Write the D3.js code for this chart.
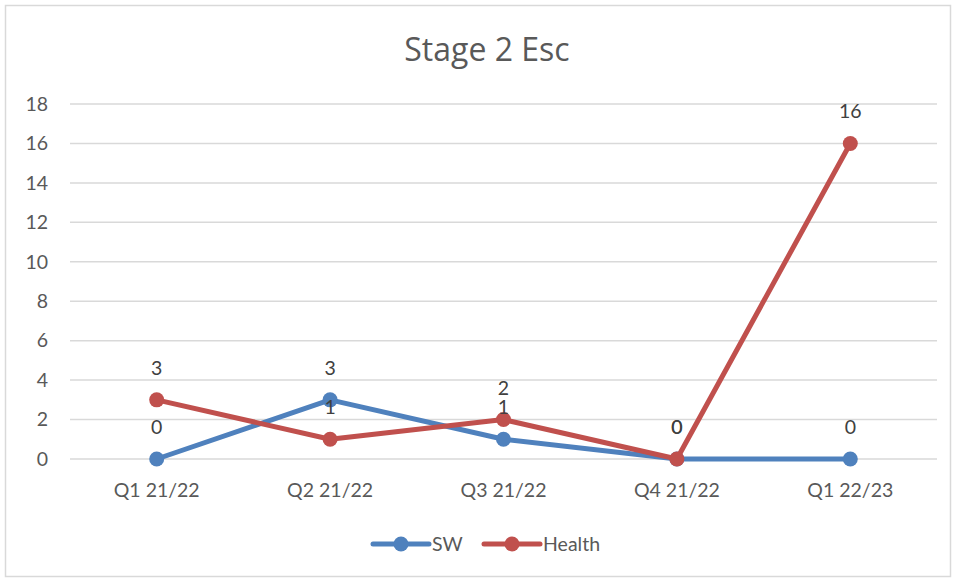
<!DOCTYPE html>
<html><head><meta charset="utf-8">
<script src="https://cdn.jsdelivr.net/npm/d3@7"></script>
<style>body{margin:0;background:#fff}svg{display:block;font-family:Lato,"Open Sans",sans-serif}</style>
</head><body>
<script>
const title = "Stage 2 Esc";
const categories = ["Q1 21/22","Q2 21/22","Q3 21/22","Q4 21/22","Q1 22/23"];
const swValues = [0,3,1,0,0];
const healthValues = [3,1,2,0,16];
const yTicks = [0,2,4,6,8,10,12,14,16,18];
const seriesNames = ["SW","Health"];
const seriesColors = ["#4F81BD","#C0504D"];

const W=955,H=579;
const svg=d3.select("body").append("svg").attr("width",W).attr("height",H);
svg.append("rect").attr("x",5.5).attr("y",5.5).attr("width",945).attr("height",571)
  .attr("fill","#fff").attr("stroke","#D9D9D9").attr("stroke-width",1.5);

const x=d3.scaleBand().domain(categories).range([70,937]);
const y=d3.scaleLinear().domain([0,18]).range([459,104]);
const cx=d=>x(d)+x.bandwidth()/2;

svg.append("text").attr("x",487).attr("y",61).attr("text-anchor","middle")
  .attr("font-size",32).attr("fill","#595959").style("font-family","'Open Sans',sans-serif").text(title);

// gridlines
svg.append("g").selectAll("line").data(yTicks).join("line")
  .attr("x1",70).attr("x2",937).attr("y1",d=>y(d)).attr("y2",d=>y(d))
  .attr("stroke","#D9D9D9").attr("stroke-width",1.5);

// y axis
const ya=svg.append("g").attr("transform","translate(70,0)")
  .call(d3.axisLeft(y).tickValues(yTicks).tickSize(0).tickPadding(22));
ya.select(".domain").remove();
ya.selectAll("text").attr("font-size",19.5).attr("fill","#595959").style("font-family","Lato,sans-serif");

// x axis
const xa=svg.append("g").attr("transform","translate(0,459)")
  .call(d3.axisBottom(x).tickSize(0).tickPadding(24));
xa.select(".domain").remove();
xa.selectAll("text").attr("font-size",19.5).attr("fill","#595959").style("font-family","Lato,sans-serif");

const series=[swValues,healthValues];
const line=d3.line().x((d,i)=>cx(categories[i])).y(d=>y(d));
series.forEach((vals,s)=>{
  const g=svg.append("g");
  g.append("path").datum(vals).attr("d",line).attr("fill","none")
    .attr("stroke",seriesColors[s]).attr("stroke-width",5).attr("stroke-linejoin","round");
  g.selectAll("circle").data(vals).join("circle")
    .attr("cx",(d,i)=>cx(categories[i])).attr("cy",d=>y(d)).attr("r",7.5)
    .attr("fill",seriesColors[s]);
});
series.forEach((vals,s)=>{
  svg.append("g").selectAll("text").data(vals).join("text")
    .attr("x",(d,i)=>cx(categories[i])).attr("y",d=>y(d)-25)
    .attr("text-anchor","middle").attr("font-size",19.5).attr("fill","#404040")
    .text(d=>d);
});

// legend
const leg=[{x:373},{x:484}];
seriesNames.forEach((n,s)=>{
  const lx=leg[s].x, ly=544;
  svg.append("line").attr("x1",lx).attr("x2",lx+56).attr("y1",ly).attr("y2",ly)
    .attr("stroke",seriesColors[s]).attr("stroke-width",5).attr("stroke-linecap","round");
  svg.append("circle").attr("cx",lx+28).attr("cy",ly).attr("r",7.5).attr("fill",seriesColors[s]);
  svg.append("text").attr("x",lx+59).attr("y",ly+7).attr("font-size",19.5).attr("fill","#595959").text(n);
});
</script>
</body></html>
